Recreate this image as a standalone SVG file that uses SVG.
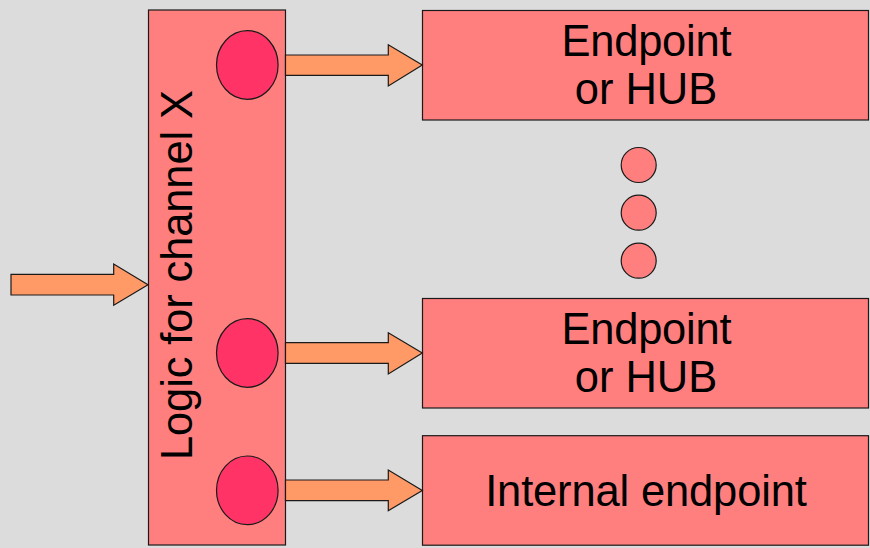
<svg xmlns="http://www.w3.org/2000/svg" width="870" height="548" viewBox="0 0 870 548">
  <style>
    .box { fill: #ff7f7f; stroke: #1a1a1a; stroke-width: 1.2; }
    .port { fill: #ff3366; stroke: #1a1a1a; stroke-width: 1.2; }
    .dot { fill: #ff7f7f; stroke: #1a1a1a; stroke-width: 1.2; }
    .arrow { fill: #ff9966; stroke: #1a1a1a; stroke-width: 1.2; stroke-linejoin: miter; }
    .label { font-family: "Liberation Sans", Arial, sans-serif; font-size: 43.5px; fill: #000; text-anchor: middle; }
  </style>
  <rect width="870" height="548" fill="#dcdcdc"/>

  <g id="logic">
    <rect class="box" x="148.5" y="10" width="137" height="535"/>
    <text class="label" transform="translate(192 275) rotate(-90)" textLength="370">Logic for channel X</text>
    <ellipse class="port" cx="247.3" cy="65" rx="30.8" ry="34.3"/>
    <ellipse class="port" cx="247.3" cy="353" rx="30.8" ry="34.3"/>
    <ellipse class="port" cx="247.3" cy="490.3" rx="30.8" ry="34.3"/>
  </g>

  <g id="endpoint1">
    <rect class="box" x="422.5" y="10.5" width="446" height="109.5"/>
    <text class="label" x="646.5" y="55.7" textLength="170">Endpoint</text>
    <text class="label" x="646" y="104">or HUB</text>
  </g>

  <g id="ellipsis">
    <circle class="dot" cx="638.7" cy="165" r="17.5"/>
    <circle class="dot" cx="638.7" cy="212.7" r="17.5"/>
    <circle class="dot" cx="638.7" cy="260.7" r="17.5"/>
  </g>

  <g id="endpoint2">
    <rect class="box" x="422.5" y="298.5" width="446" height="109.5"/>
    <text class="label" x="646.5" y="344" textLength="170">Endpoint</text>
    <text class="label" x="646" y="391.7">or HUB</text>
  </g>

  <g id="internal">
    <rect class="box" x="422.5" y="435.7" width="446" height="109.5"/>
    <text class="label" x="646" y="505.7" textLength="321.7">Internal endpoint</text>
  </g>

  <g id="connectors">
    <!-- incoming channel -->
    <polygon class="arrow" points="11,274.3 113.7,274.3 113.7,264 148,284.7 113.7,305.3 113.7,295 11,295"/>
    <!-- outputs -->
    <polygon class="arrow" points="285.5,55 388.3,55 388.3,44.7 422.3,65 388.3,86 388.3,75.3 285.5,75.3"/>
    <polygon class="arrow" points="285.5,342.7 388.3,342.7 388.3,332.7 422.3,353 388.3,374 388.3,363.3 285.5,363.3"/>
    <polygon class="arrow" points="285.5,480 388.3,480 388.3,470 422.3,490.5 388.3,510.7 388.3,500.7 285.5,500.7"/>
  </g>
</svg>
